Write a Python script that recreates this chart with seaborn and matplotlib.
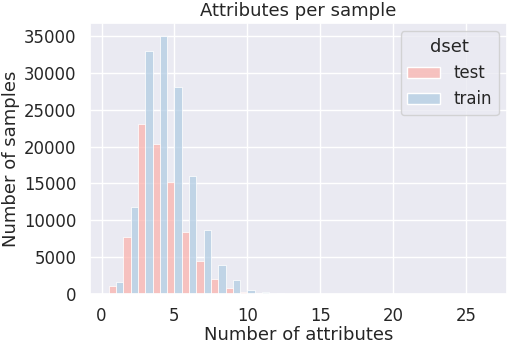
import seaborn as sns
import matplotlib.pyplot as plt
import pandas as pd

# numero di attributi per campione e conteggi
n_attributes = list(range(1, 27))
test_counts = [1100, 7800, 23100, 20300, 15200, 8450, 4550, 2100, 780, 300,
               200, 60, 25, 12, 6, 4, 3, 2, 1, 1, 1, 1, 1, 1, 1, 1]
train_counts = [1700, 11800, 33000, 35000, 28100, 16000, 8700, 3950, 1850, 600,
                300, 120, 50, 25, 12, 8, 5, 3, 2, 2, 1, 1, 1, 1, 1, 1]

df = pd.DataFrame({
    'n_attr': n_attributes * 2,
    'count': test_counts + train_counts,
    'dset': ['test'] * len(n_attributes) + ['train'] * len(n_attributes),
})

sns.set_theme(font_scale=1.08)

fig, ax = plt.subplots(figsize=(5.08, 3.44), dpi=100)
fig.subplots_adjust(left=0.177, right=0.998, bottom=0.145, top=0.933)

sns.histplot(data=df, x='n_attr', weights='count', hue='dset',
             discrete=True, multiple='dodge', palette='Pastel1', ax=ax)

ax.set_title('Attributes per sample', pad=5)
ax.set_xlabel('Number of attributes', labelpad=0.5)
ax.set_ylabel('Number of samples', labelpad=3)
ax.set_xticks([0, 5, 10, 15, 20, 25])

plt.savefig('out.png')
